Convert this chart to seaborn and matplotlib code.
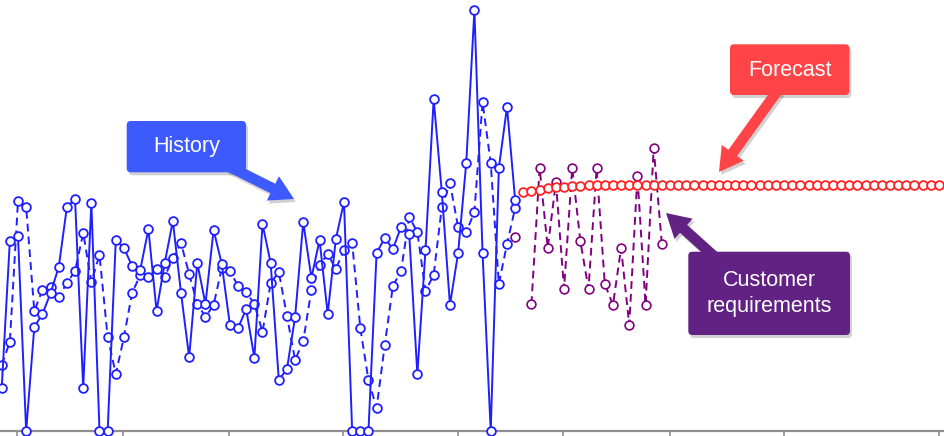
import numpy as np
import pandas as pd
import matplotlib
matplotlib.use("Agg")
import matplotlib.pyplot as plt
import seaborn as sns
from matplotlib.patches import FancyBboxPatch, FancyArrowPatch, ArrowStyle
from matplotlib.transforms import IdentityTransform

# ---------------- data (weekly periods) ----------------
history_solid = [43, 190, 195, 0, 104, 117, 138, 164, 224, 232,
                 43, 228, 0, 0, 191, 183, 165, 161, 202, 120,
                 168, 210, 138, 74, 168, 127, 201, 167, 106, 103,
                 122, 73, 207, 168, 51, 62, 114, 209, 153, 191,
                 117, 192, 229, 0, 0, 0, 178, 193, 182, 204,
                 197, 57, 181, 332, 239, 126, 178, 268, 421, 178,
                 0, 263, 324, 231]
history_dashed = [66, 89, 230, 224, 120, 141, 144, 134, 148, 160,
                  198, 149, 176, 94, 57, 94, 138, 156, 154, 162,
                  154, 173, 188, 157, 127, 114, 126, 163, 160, 145,
                  139, 127, 99, 148, 159, 115, 71, 90, 141, 166,
                  177, 162, 181, 188, 103, 51, 23, 86, 145, 160,
                  214, 199, 140, 156, 224, 248, 204, 199, 219, 329,
                  268, 147, 187, 223]
customer_start = 63
customer_req = [194, np.nan, 127, 263, 183, 249, 142, 263, 190, 142,
                263, 147, 126, 183, 106, 255, 126, 283, 187]
forecast_start = 64
forecast = [239.0, 240.2, 241.5, 242.7, 243.7, 244.5, 245.1, 245.5, 245.8, 246.0,
            246.1, 246.2, 246.3, 246.3, 246.3, 246.3, 246.3, 246.3, 246.3, 246.3,
            246.3, 246.3, 246.3, 246.3, 246.3, 246.3, 246.3, 246.3, 246.3, 246.3,
            246.3, 246.3, 246.3, 246.3, 246.3, 246.3, 246.3, 246.3, 246.3, 246.3,
            246.3, 246.3, 246.3, 246.3, 246.3, 246.3, 246.3, 246.3, 246.3, 246.3,
            246.3, 246.3]
tick_positions = [1.85, 14.9, 27.9, 41.9, 56.0, 68.9, 82.0, 96.0, 115.0]

# ---------------- styling ----------------
BLUE = "#1f1fff"
RED = "#ff2222"
PURPLE = "#800080"
GRAY = "#8f8f8f"

sns.set_theme(style="white")
plt.rcParams["font.family"] = ["Liberation Sans", "DejaVu Sans"]

W, H = 945, 436
fig = plt.figure(figsize=(W / 100, H / 100), dpi=100)
fig.patch.set_facecolor("white")
ax = fig.add_axes([0, 5 / H, 1, 431 / H])
ax.set_facecolor("white")

hist = pd.DataFrame({
    "period": np.arange(len(history_solid)),
    "solid": history_solid,
    "dashed": history_dashed,
})
cust = pd.DataFrame({
    "period": np.arange(customer_start, customer_start + len(customer_req)),
    "value": customer_req,
})
cust["segment"] = cust["value"].isna().cumsum()
cust = cust.dropna()
fc = pd.DataFrame({
    "period": np.arange(forecast_start, forecast_start + len(forecast)),
    "value": forecast,
})

mk = dict(marker="o", markersize=6.3, markerfacecolor="white", markeredgewidth=1.3)

sns.lineplot(data=hist, x="period", y="dashed", ax=ax, color=BLUE, lw=1.4,
             dashes=False, linestyle=(0, (4, 2.6)), markeredgecolor=BLUE,
             clip_on=False, zorder=3, **mk)
sns.lineplot(data=hist, x="period", y="solid", ax=ax, color=BLUE, lw=1.4,
             markeredgecolor=BLUE, clip_on=False, zorder=4, **mk)
sns.lineplot(data=cust, x="period", y="value", units="segment", estimator=None,
             ax=ax, color=PURPLE, lw=1.4, linestyle=(0, (4, 2.6)),
             markeredgecolor=PURPLE, clip_on=False, zorder=2,
             marker="o", markersize=6.3, markerfacecolor="white", markeredgewidth=1.2)
sns.lineplot(data=fc, x="period", y="value", ax=ax, color=RED, lw=1.4,
             markeredgecolor=RED, clip_on=False, zorder=5, **mk)

dx = 8.15
ax.set_xlim(-1.7 / dx, (W - 1.7) / dx)
ax.set_ylim(0, 431)
ax.set_xlabel("")
ax.set_ylabel("")
ax.set_xticks(tick_positions)
ax.set_xticklabels([])
ax.set_yticks([])
for s in ["left", "right", "top"]:
    ax.spines[s].set_visible(False)
ax.spines["bottom"].set_color(GRAY)
ax.spines["bottom"].set_linewidth(1.6)
ax.tick_params(axis="x", direction="out", length=7, width=1.2, color=GRAY,
               bottom=True, labelbottom=False)
ax.grid(False)

# ---------------- callouts (pixel coordinates, origin top-left) ----------------
ident = IdentityTransform()


def P(x, y):
    return (x, H - y)


def callout(x0, y0, x1, y1, color, lines, text_ys, arrow_from, arrow_to):
    # shadows
    sh_arrow = FancyArrowPatch(P(arrow_from[0] + 2, arrow_from[1] + 3),
                               P(arrow_to[0] + 2, arrow_to[1] + 3),
                               arrowstyle=ArrowStyle.Simple(head_length=1.0, head_width=1.15, tail_width=0.45),
                               mutation_scale=17, transform=ident, color="black",
                               alpha=0.18, lw=0, shrinkA=0, shrinkB=0, zorder=9)
    fig.add_artist(sh_arrow)
    sh_box = FancyBboxPatch(P(x0 + 2, y1 + 3), x1 - x0, y1 - y0,
                            boxstyle="round,pad=0,rounding_size=4", transform=ident,
                            facecolor="black", alpha=0.18, lw=0, zorder=9)
    fig.add_artist(sh_box)
    arr = FancyArrowPatch(P(*arrow_from), P(*arrow_to),
                          arrowstyle=ArrowStyle.Simple(head_length=1.0, head_width=1.15, tail_width=0.45),
                          mutation_scale=17, transform=ident, color=color,
                          lw=0, shrinkA=0, shrinkB=0, zorder=10)
    fig.add_artist(arr)
    box = FancyBboxPatch(P(x0, y1), x1 - x0, y1 - y0,
                         boxstyle="round,pad=0,rounding_size=4", transform=ident,
                         facecolor=color, lw=0, zorder=11)
    fig.add_artist(box)
    cx = (x0 + x1) / 2
    for line, ty in zip(lines, text_ys):
        fig.text(cx / W, 1 - ty / H, line, ha="center", va="center",
                 color="white", fontsize=15.5, zorder=12)


callout(126.7, 121, 246, 172.3, "#3d5afe", ["History"], [146.5],
        (228, 166), (294, 199))
callout(730, 44.3, 849.3, 95, "#ff4448", ["Forecast"], [70],
        (778, 90), (719, 172))
callout(688.3, 251.7, 850, 335, "#612283", ["Customer", "requirements"], [280, 306],
        (716, 258), (666, 213))

fig.savefig("out.png", dpi=100, facecolor="white")
